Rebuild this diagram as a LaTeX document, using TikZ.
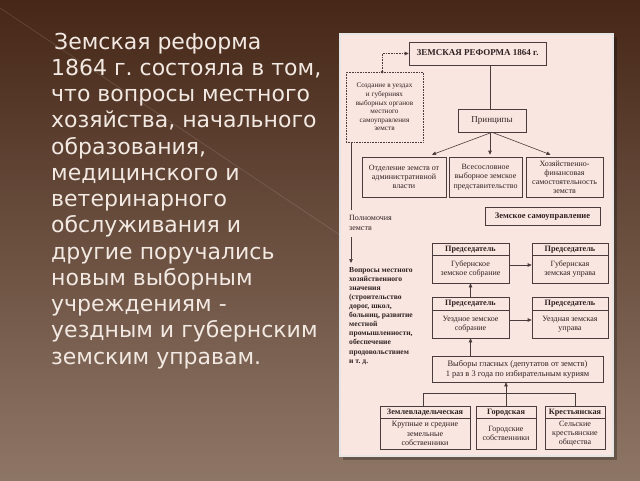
\documentclass[tikz,border=0pt]{standalone}
\usepackage{fontspec}
\setmainfont{Liberation Serif}
\newfontfamily\slidefont{DejaVu Sans}
\usetikzlibrary{arrows.meta,calc}
\definecolor{bgtop}{HTML}{462718}
\definecolor{bgbot}{HTML}{8E7666}
\definecolor{panel}{HTML}{FAE6E0}
\definecolor{ink}{HTML}{2E2222}
\definecolor{wire}{HTML}{4A3C3C}
\definecolor{slidetext}{HTML}{F2E9E2}
\tikzset{
  box/.style={draw=wire, line width=0.6pt, fill=panel, inner sep=1pt, align=center,
    font=\fontsize{8}{9.3}\selectfont, text=ink},
  hdr/.style={box, font=\fontsize{8.2}{9}\selectfont\bfseries, text height=5.6pt, text depth=1.6pt},
  dotbox/.style={draw=wire, densely dotted, line width=0.6pt, inner sep=1pt, align=center,
    font=\fontsize{7.2}{8.6}\selectfont, text=ink},
  conn/.style={draw=wire, line width=0.6pt},
  arr/.style={conn, -{Triangle[length=4pt,width=3.5pt]}},
  lbl/.style={inner sep=0pt, align=left, text=ink, font=\fontsize{8}{9.3}\selectfont},
}
\begin{document}
\frenchspacing
\begin{tikzpicture}[x=1pt,y=-1pt]
\useasboundingbox (0,0) rectangle (640,480);
\shade[top color=bgtop, bottom color=bgbot] (0,0) rectangle (640,480);
\draw[white, opacity=0.12, line width=0.8pt] (0,8) -- (340,235);
% panel
\fill[black, opacity=0.25] (343,37) rectangle (617,460);
\draw[draw=white!80!gray, line width=1.5pt, fill=panel] (340,34) rectangle (613,456);

% title
\node[box, minimum width=137pt, minimum height=23pt, text height=6pt, text depth=1.5pt, font=\fontsize{9}{10}\selectfont\bfseries] (title) at (477.5,53.5) {ЗЕМСКАЯ РЕФОРМА 1864 г.};
% dotted box
\node[dotbox, minimum width=77pt, minimum height=70pt] (dot) at (384.5,107) {Создание в уездах\\и губерниях\\выборных органов\\местного\\самоуправления\\земств};
\fill[wire] (382,72) circle (1.5pt);
\draw[conn, densely dotted, -{Triangle[length=4pt,width=3.5pt]}] (382,72) |- (title.west);

% principles
\node[box, minimum width=68pt, minimum height=23pt, text height=6pt, text depth=1.8pt, font=\fontsize{9}{10}\selectfont] (princ) at (492,120.5) {Принципы};
\draw[conn] (princ.north -| 490,0) -- (490,65);

\node[box, minimum width=84pt, minimum height=40pt] (b1) at (404,177) {Отделение земств от\\административной\\власти};
\node[box, minimum width=73pt, minimum height=40pt] (b2) at (485.5,177) {Всесословное\\выборное земское\\представительство};
\node[box, minimum width=77pt, minimum height=40pt, font=\fontsize{8}{9}\selectfont] (b3) at (564.5,177) {Хозяйственно-\\финансовая\\самостоятельность\\земств};
\draw[arr] (princ.south) -- ($(b1.north)+(28,-2)$);
\draw[arr] (princ.south -| 490,0) -- ($(b2.north)+(4.5,-2)$);
\draw[arr] (princ.south) -- ($(b3.north)+(-14,-2)$);

\node[box, minimum width=115pt, minimum height=18pt, line width=0.9pt, text height=5.8pt, text depth=1.6pt, font=\fontsize{8.5}{9}\selectfont\bfseries] (zsu) at (542.5,216) {Земское самоуправление};

% left column
\coordinate (lc1) at (351,142);
\coordinate (lc2) at (351,210);
\draw[conn] (lc1) -- (lc2);
\node[lbl, anchor=north west] (poln) at (349,215.5) {Полномочия\\земств};
\coordinate (lc3) at (351,237);
\coordinate (lc4) at (351,263);
\draw[arr] (lc3) -- (lc4);
\node[lbl, anchor=north west, font=\fontsize{7.6}{9.1}\selectfont\bfseries] (vopr) at (349,267) {Вопросы местного\\хозяйственного\\значения\\(строительство\\дорог, школ,\\больниц, развитие\\местной\\промышленности,\\обеспечение\\продовольствием\\и т. д.};

% governing bodies
\node[hdr, minimum width=77pt, minimum height=12pt] (gsh) at (470.5,249) {Председатель};
\node[box, minimum width=77pt, minimum height=28pt] (gs) at (470.5,269) {Губернское\\земское собрание};
\node[hdr, minimum width=76pt, minimum height=12pt] (guh) at (570,249) {Председатель};
\node[box, minimum width=76pt, minimum height=28pt] (gu) at (570,269) {Губернская\\земская управа};
\node[hdr, minimum width=77pt, minimum height=13pt] (ush) at (470.5,303.5) {Председатель};
\node[box, minimum width=77pt, minimum height=28pt] (us) at (470.5,324) {Уездное земское\\собрание};
\node[hdr, minimum width=76pt, minimum height=13pt] (uuh) at (570,303.5) {Председатель};
\node[box, minimum width=76pt, minimum height=28pt] (uu) at (570,324) {Уездная земская\\управа};
\draw[arr] ([yshift=4pt]gs.east) -- ([yshift=4pt]gu.west);
\draw[arr] ([yshift=4pt]us.east) -- ([yshift=4pt]uu.west);
\draw[arr] (ush.north) -- (gs.south);

% elections
\node[box, minimum width=171pt, minimum height=26pt, font=\fontsize{8.4}{10}\selectfont] (vyb) at (517.5,369) {Выборы гласных (депутатов от земств)\\1 раз в 3 года по избирательным куриям};
\draw[arr] (us.south |- vyb.north) -- (us.south);

% curiae
\node[hdr, minimum width=90pt, minimum height=12pt] (zh) at (425,412) {Землевладельческая};
\node[box, minimum width=90pt, minimum height=31pt] (zb) at (425,433.5) {Крупные и средние\\земельные\\собственники};
\node[hdr, minimum width=60pt, minimum height=12pt] (gh) at (506,412) {Городская};
\node[box, minimum width=60pt, minimum height=31pt] (gb) at (506,433.5) {Городские\\собственники};
\node[hdr, minimum width=60pt, minimum height=12pt] (kh) at (575,412) {Крестьянская};
\node[box, minimum width=60pt, minimum height=31pt] (kb) at (575,433.5) {Сельские\\крестьянские\\общества};
\coordinate (hz) at (423,393);
\coordinate (hk) at (575,393);
\draw[conn] (zh.north -| hz) -- (hz) -- (hk) -- (kh.north);
\draw[arr] (gh.north) -- (gh.north |- vyb.south);

% slide text
\node[anchor=north west, inner sep=0pt, align=left, text=slidetext,
  font=\slidefont\fontsize{22}{26.25}\selectfont] (txt) at (51,32.5)
{\hspace{3pt}Земская реформа\\1864 г. состояла в том,\\что вопросы местного\\хозяйства, начального\\образования,\\медицинского и\\ветеринарного\\обслуживания и\\другие поручались\\новым выборным\\учреждениям -\\уездным и губернским\\земским управам.};
\end{tikzpicture}
\end{document}
